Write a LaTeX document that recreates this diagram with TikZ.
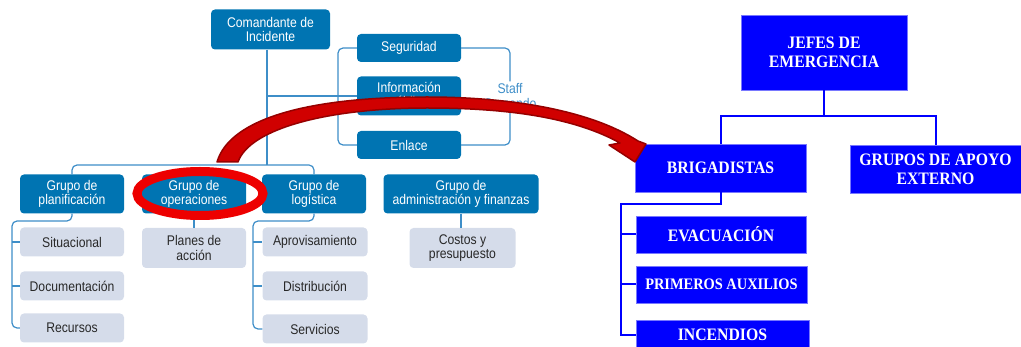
\documentclass[tikz,border=0pt]{standalone}
\usepackage{fontspec}
\newfontfamily\icsfont[FakeStretch=0.87]{Liberation Sans}
\newfontfamily\emgfont[FakeStretch=0.9]{Liberation Serif}
\definecolor{icsblue}{RGB}{0,116,178}
\definecolor{icsline}{RGB}{62,142,200}
\definecolor{icsgray}{RGB}{213,220,234}
\definecolor{subtext}{RGB}{40,40,40}
\definecolor{emgblue}{RGB}{0,0,255}
\definecolor{emgedge}{RGB}{120,120,255}
\definecolor{arrowred}{RGB}{208,0,0}
\definecolor{arrowdark}{RGB}{150,0,0}
\definecolor{ellred}{RGB}{237,0,0}
\begin{document}
\begin{tikzpicture}[x=1pt, y=-1pt,
    grp/.style={rectangle, rounded corners=4pt, fill=icsblue, text=white, align=center,
        inner sep=0pt, font=\icsfont\fontsize{14}{14.5}\selectfont},
    sub/.style={grp, fill=icsgray, text=subtext},
    lnk/.style={draw=icsline, line width=1.2pt, rounded corners=5pt},
    emg/.style={rectangle, fill=emgblue, draw=emgedge, line width=0.8pt, text=white,
        align=center, inner sep=0pt, font=\emgfont\bfseries\fontsize{17.5}{19}\selectfont},
    emglnk/.style={draw=emgblue, line width=2pt}]
    \useasboundingbox (0,0) rectangle (1021,347);
    % --- left: incident command chart ---
    \node[grp, minimum width=119pt, minimum height=40pt] (cmd) at (270.5,29.5) {Comandante de\\Incidente};
    \node[grp, minimum width=104pt, minimum height=28pt] (seg) at (409,48) {Seguridad};
    \node[grp, minimum width=104pt, minimum height=39pt] (info) at (409,96) {Información\\pública};
    \node[grp, minimum width=104pt, minimum height=28pt] (enl) at (409,145) {Enlace};
    \node[text=icsline, align=center, inner sep=2pt, font=\icsfont\fontsize{14}{14.5}\selectfont] (staff) at (510,96) {Staff\\Comando};
    % groups
    \node[grp, minimum width=104pt, minimum height=39pt] (planif) at (72,194) {Grupo de\\planificación};
    \node[grp, minimum width=104pt, minimum height=39pt] (oper) at (194,194) {Grupo de\\operaciones};
    \node[grp, minimum width=104pt, minimum height=39pt] (logi) at (314,194) {Grupo de\\logística};
    \node[grp, minimum width=155pt, minimum height=39pt] (admin) at (461,194) {Grupo de\\administración y finanzas};
    % units
    \node[sub, minimum width=104pt, minimum height=29pt] (sit) at (72,242) {Situacional};
    \node[sub, minimum width=104pt, minimum height=29pt] (doc) at (72,286) {Documentación};
    \node[sub, minimum width=104pt, minimum height=29pt] (rec) at (72,328) {Recursos};
    \node[sub, minimum width=104pt, minimum height=40pt] (planes) at (194,248) {Planes de\\acción};
    \node[sub, minimum width=105pt, minimum height=29pt] (aprov) at (315,242) {Aprovisamiento};
    \node[sub, minimum width=105pt, minimum height=29pt] (dist) at (315,286) {Distribución};
    \node[sub, minimum width=105pt, minimum height=29pt] (serv) at (315,329) {Servicios};
    \node[sub, minimum width=106pt, minimum height=40pt] (costos) at (462.5,248) {Costos y\\presupuesto};
    % connectors
    \coordinate (bus) at (267,165);
    \coordinate (brL) at (338,145);
    \coordinate (plx) at (12,221);
    \coordinate (lgx) at (253,221);
    \draw[lnk] (bus |- cmd.south) -- (bus);
    \draw[lnk] (planif.north) |- (bus) -| (logi.north);
    \draw[lnk] (bus |- info.west) -- (info.west);
    \draw[lnk] (seg.west) -| (brL) -- (enl.west);
    \draw[lnk] (seg.east) -| (staff.north);
    \draw[lnk] (enl.east) -| (staff.south);
    \draw[lnk] (planif.south) |- (plx) |- (rec.west);
    \draw[lnk] (sit.west -| plx) -- (sit.west);
    \draw[lnk] (doc.west -| plx) -- (doc.west);
    \draw[lnk] (oper.south) -- (planes.north);
    \draw[lnk] (logi.south) |- (lgx) |- (serv.west);
    \draw[lnk] (aprov.west -| lgx) -- (aprov.west);
    \draw[lnk] (dist.west -| lgx) -- (dist.west);
    \draw[lnk] (admin.south) -- (admin.south |- costos.north);
    % --- right: emergency chart ---
    \node[emg, minimum width=166pt, minimum height=75pt] (jefes) at (824,52.5) {JEFES DE\\EMERGENCIA};
    \node[emg, minimum width=171pt, minimum height=48pt] (brig) at (720.5,168) {BRIGADISTAS};
    \node[emg, minimum width=171pt, minimum height=48pt] (apoyo) at (935.5,169) {GRUPOS DE APOYO\\EXTERNO};
    \node[emg, minimum width=170pt, minimum height=37pt] (evac) at (721,234.5) {EVACUACIÓN};
    \node[emg, minimum width=171pt, minimum height=37pt, font=\emgfont\bfseries\fontsize{16}{17}\selectfont] (prim) at (721.5,284.5) {PRIMEROS AUXILIOS};
    \node[emg, minimum width=173pt, minimum height=30pt] (inc) at (722.5,335) {INCENDIOS};
    \coordinate (ebus) at (821,116);
    \coordinate (bx) at (621,204);
    \draw[emglnk] (jefes.south) -- (jefes.south |- ebus);
    \draw[emglnk] (brig.north) |- (ebus) -| (apoyo.north);
    \draw[emglnk] (brig.south) |- (bx) |- (inc.west);
    \draw[emglnk] (evac.west -| bx) -- (evac.west);
    \draw[emglnk] (prim.west -| bx) -- (prim.west);
    % --- highlight ring and curved arrow ---
    \draw[draw=ellred, line width=9pt] (200,193.5) ellipse (63pt and 22pt);
    \filldraw[fill=arrowred, draw=arrowdark, line width=1.5pt, line join=round]
        (217,162) .. controls (230,118) and (310,97) .. (427,97)
        .. controls (510,97) and (590,110) .. (638,141)
        -- (646,144) -- (635,162) -- (609,145) -- (620,143)
        .. controls (575,118) and (510,108) .. (427,108)
        .. controls (330,108) and (250,128) .. (238,162) -- cycle;
\end{tikzpicture}
\end{document}
